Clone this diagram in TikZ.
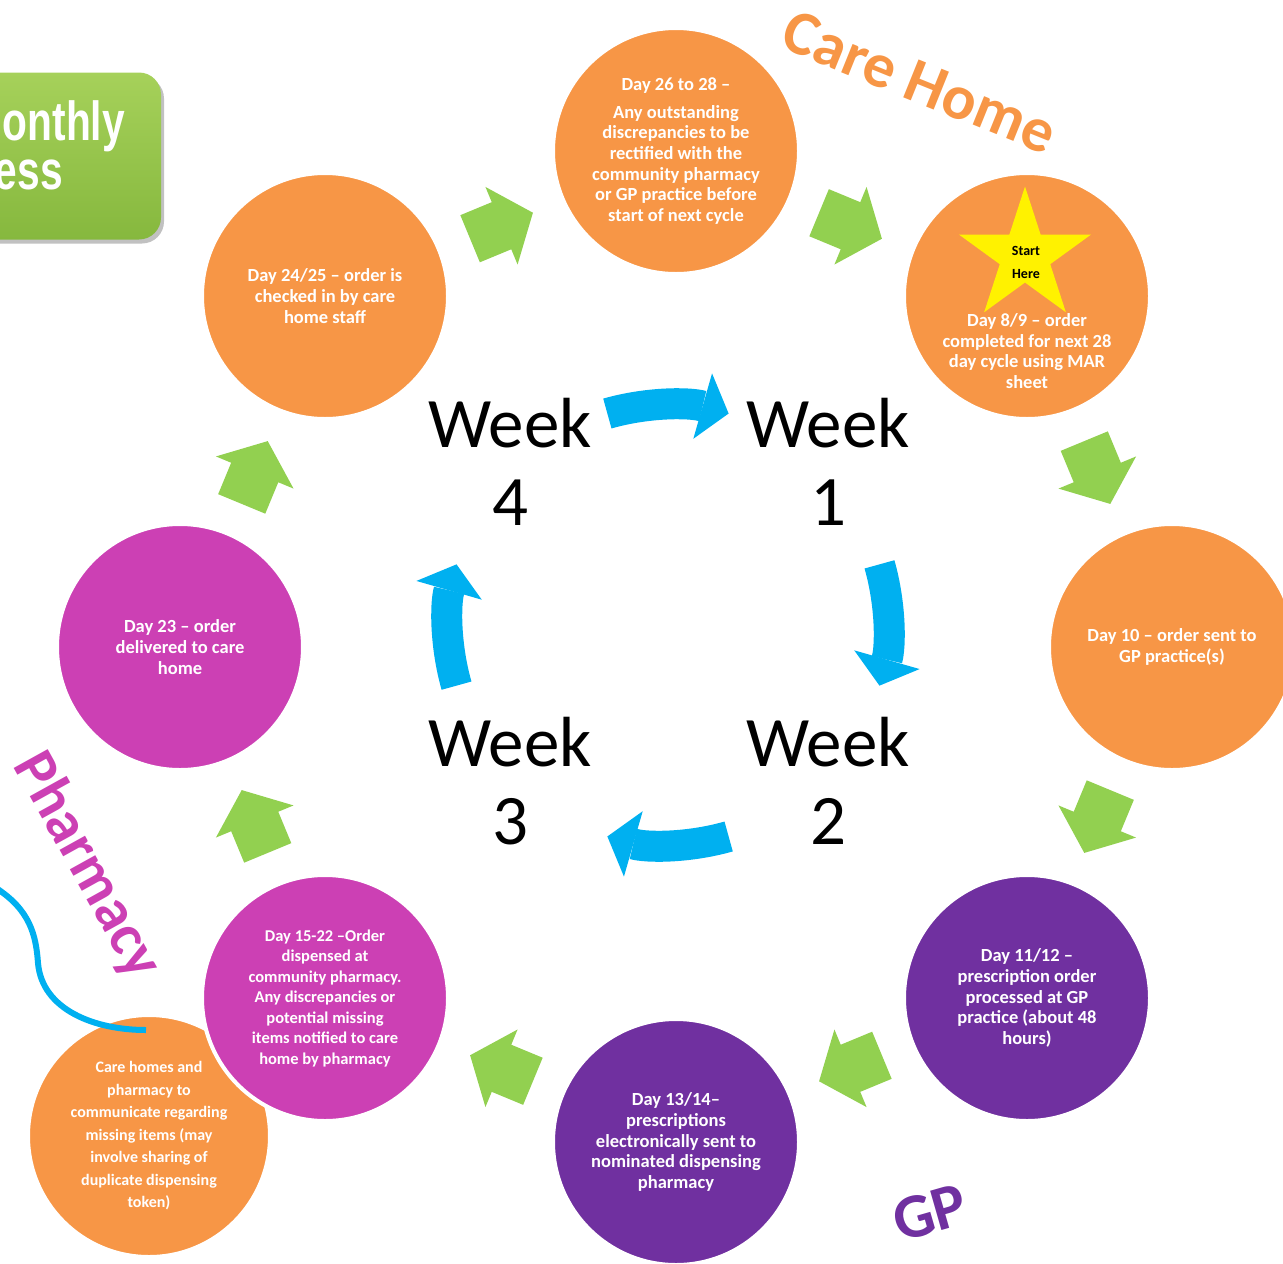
\documentclass[tikz,border=0pt]{standalone}
\usepackage{fontspec}
\setmainfont{Carlito}
\newfontfamily\boxfont{Liberation Sans}
\usetikzlibrary{shapes.geometric,arrows.meta,shadows}
\definecolor{chorange}{HTML}{F79646}
\definecolor{chmagenta}{RGB}{204,64,180}
\definecolor{chpurple}{HTML}{7030A0}
\definecolor{chgreen}{HTML}{92D050}
\definecolor{chblue}{HTML}{00B0F0}
\definecolor{boxtop}{HTML}{A6D15A}
\definecolor{boxbot}{HTML}{86B83E}
\tikzset{
  stage/.style={circle, minimum size=246pt, draw=white, line width=4pt, text=white, align=center,
    font=\bfseries\fontsize{18.5}{20.6}\selectfont},
  stagetext/.style={text=white, align=center, font=\bfseries\fontsize{18.5}{20.6}\selectfont},
  greenarrow/.style={fill=chgreen},
  bluearrow/.style={chblue, line width=31pt, -{Triangle[length=27pt,width=68pt,line width=0pt]}},
  weeklabel/.style={align=center, font=\fontsize{71}{78}\selectfont},
  sidelabel/.style={font=\bfseries\fontsize{63}{63}\selectfont},
  procbox/.style={rectangle, rounded corners=22pt, minimum width=224pt, minimum height=167pt,
    top color=boxtop, bottom color=boxbot,
    drop shadow={shadow xshift=3pt, shadow yshift=-4pt, opacity=.35, fill=black!70}},
  proctext/.style={text=white, font=\boxfont\bfseries\fontsize{55}{60}\selectfont},
  wave/.style={chblue, line width=6pt}
}
\begin{document}
\begin{tikzpicture}[x=1pt,y=1pt]
\tikzstyle{every node}+=[inner sep=0pt]
\useasboundingbox (0,0) rectangle (1283,-1264);
\coordinate (hub) at (676,-647);
\coordinate (wk) at (668,-625);
\node[procbox] (proc) at (49,-156) {};
\node[proctext, anchor=east] (proctop) at (125,-126) {\scalebox{0.74}[1]{onthly}};
\node[proctext, anchor=east] (procbot) at (63,-175) {\scalebox{0.74}[1]{ess}};
\foreach \a in {22.5,67.5,...,337.5}
  \fill[greenarrow, shift={(hub)}, rotate=\a] (430.5,34) -- (481.5,34) -- (481.5,0) -- (498,0)
    -- (456,-34) -- (414,0) -- (430.5,0) -- cycle;
\foreach \a in {90,0,-90,180}
  \draw[bluearrow] ([shift={(\a+16:220)}]wk) arc[start angle=\a+16, delta angle=-32, radius=220];
\node[weeklabel] (week4) at (510,-462) {Week\\4};
\node[weeklabel] (week1) at (828,-462) {Week\\1};
\node[weeklabel] (week2) at (828,-781) {Week\\2};
\node[weeklabel] (week3) at (510,-781) {Week\\3};
\node[stage, fill=chorange] (day26) at (676,-151) {Day 26 to 28 –\\[7pt]Any outstanding\\discrepancies to be\\rectified with the\\community pharmacy\\or GP practice before\\start of next cycle};
\node[stage, fill=chorange] (day8) at (1027,-296) {};
\node[star, star points=5, star point ratio=2.618, minimum size=139pt, fill=yellow] (star) at (1025,-256) {};
\node[align=center, font=\bfseries\fontsize{14}{23}\selectfont] (starttxt) at (1026,-262) {Start\\Here};
\node[stagetext] (day8txt) at (1027,-351) {Day 8/9 – order\\completed for next 28\\day cycle using MAR\\sheet};
\node[stage, fill=chorange] (day10) at (1172,-647) {Day 10 – order sent to\\GP practice(s)};
\node[stage, fill=chpurple] (day11) at (1027,-998) {Day 11/12 –\\prescription order\\processed at GP\\practice (about 48\\hours)};
\node[stage, fill=chpurple] (day13) at (676,-1142) {Day 13/14–\\prescriptions\\electronically sent to\\nominated dispensing\\pharmacy};
\node[stage, fill=chorange, minimum size=242pt, font=\bfseries\fontsize{16}{22.5}\selectfont] (share) at (149,-1136) {Care homes and\\pharmacy to\\communicate regarding\\missing items (may\\involve sharing of\\duplicate dispensing\\token)};
\coordinate (wavestart) at (-4,-888);
\coordinate (waveend) at (146,-1030);
\draw[wave] (wavestart) .. controls (30,-910) and (36,-935) .. (38,-963) .. controls (42,-1010) and (95,-1030) .. (waveend);
\node[stage, fill=chmagenta, font=\bfseries\fontsize{16.5}{20.5}\selectfont] (day15) at (325,-998) {Day 15-22 –Order\\dispensed at\\community pharmacy.\\Any discrepancies or\\potential missing\\items notified to care\\home by pharmacy};
\node[stage, fill=chmagenta] (day23) at (180,-647) {Day 23 – order\\delivered to care\\home};
\node[stage, fill=chorange] (day24) at (325,-296) {Day 24/25 – order is\\checked in by care\\home staff};
\node[sidelabel, text=chorange, rotate=-22] (carehome) at (920,-82) {Care Home};
\node[sidelabel, text=chmagenta, rotate=-61, font=\bfseries\fontsize{60}{60}\selectfont] (pharmacy) at (87,-866) {Pharmacy};
\node[sidelabel, text=chpurple, rotate=16] (gp) at (930,-1213) {GP};
\end{tikzpicture}
\end{document}
